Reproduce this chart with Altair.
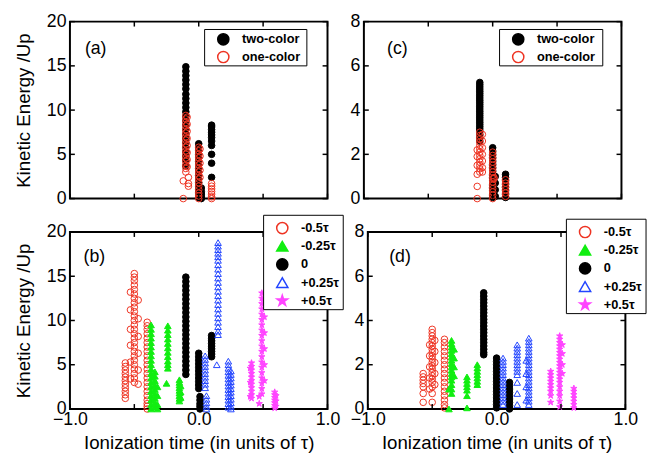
import altair as alt
import pandas as pd

FONT = "Liberation Sans"
W, H = 262, 180

X_TICKS = [-1, -0.5, 0, 0.5, 1]
X_LABELS = [-1, 0, 1]
Y_TICKS_AB = [0, 5, 10, 15, 20]
Y_TICKS_CD = [0, 2, 4, 6, 8]
X_TITLE = "Ionization time (in units of τ)"
Y_TITLE = "Kinetic Energy /Up"

TWO_ONE = ["two-color", "one-color"]
DELAYS = ["-0.5τ", "-0.25τ", "\u00a0\u00a0\u00a00", "+0.25τ", "+0.5τ"]

RED = "#ee3322"
GREEN = "#11ee11"
BLUE = "#2244ff"
MAGENTA = "#ff44ff"
STAR = ("M0,-1L0.2245,-0.309L0.951,-0.309L0.363,0.118L0.588,0.809L0,0.382"
        "L-0.588,0.809L-0.363,0.118L-0.951,-0.309L-0.2245,-0.309Z")

# series style: (shape, fill, stroke)
STYLE = {
    "two-color": ("circle", "black", "black"),
    "one-color": ("circle", "transparent", RED),
    DELAYS[0]: ("circle", "transparent", RED),
    DELAYS[1]: ("triangle-up", GREEN, GREEN),
    DELAYS[2]: ("circle", "black", "black"),
    DELAYS[3]: ("triangle-up", "transparent", BLUE),
    DELAYS[4]: (STAR, MAGENTA, MAGENTA),
}

# ---------- panel (a) ----------
A_TWO = [
    (-0.10, [14.9, 14.4, 13.9, 13.4, 12.9, 12.4, 11.8, 11.3, 10.8, 10.3, 9.8, 9.3, 8.8, 8.3,
             7.8, 7.3, 6.8, 6.3, 5.8, 5.3, 4.8, 4.3, 3.7]),
    (0.00, [6.2, 5.8, 5.4, 5.0, 4.6, 4.2, 3.8, 3.4, 3.0, 2.6, 2.2, 1.8, 1.4, 1.0, 0.7, 0.4, 0.1]),
    (0.02, [1.2, 0.8, 0.5, 0.2, 0.0]),
    (0.10, [8.3, 8.1, 7.8, 7.5, 7.2, 6.9, 6.5, 6.0, 5.0, 4.0, 2.4]),
]
A_ONE = [
    (-0.10, [9.4, 9.0, 8.6, 8.2, 7.8, 7.4, 7.0, 6.6, 6.2, 5.8, 5.4, 5.0, 4.6, 4.2, 3.8, 3.4, 3.0]),
    (-0.09, [9.2, 8.4, 7.6, 6.8, 6.0, 5.2, 4.4, 3.6]),
    (-0.12, [2.0, 0.0]),
    (-0.08, [2.4, 1.7, 1.4]),
    (0.00, [5.8, 5.4, 5.0, 4.6, 4.2, 3.8, 3.4, 3.0, 2.6, 2.2, 1.8, 1.4, 1.0, 0.6, 0.3, 0.0]),
    (0.01, [5.6, 4.8, 4.0, 3.2, 2.4]),
    (0.10, [1.7, 1.4, 1.1, 0.8, 0.5, 0.2, 0.0]),
]

# ---------- panel (c) ----------
C_TWO = [
    (-0.10, [5.25, 5.15, 5.05, 4.95, 4.85, 4.75, 4.65, 4.55, 4.45, 4.35, 4.25, 4.15, 4.05, 3.95,
             3.85, 3.75, 3.65, 3.55, 3.45, 3.35, 3.25, 3.15, 3.05, 2.9, 2.75, 2.6]),
    (0.00, [2.3, 2.15, 2.0, 1.85, 1.7, 1.55, 1.4, 1.25, 1.1, 0.95, 0.8, 0.65, 0.5, 0.35, 0.2, 0.05]),
    (0.02, [1.0, 0.7, 0.4, 0.1]),
    (0.10, [1.1, 0.95, 0.8, 0.65, 0.5, 0.35, 0.2, 0.05]),
]
C_ONE = [
    (-0.10, [3.0, 2.85, 2.7, 2.55, 2.4, 2.25, 2.1, 1.95, 1.8, 1.65, 1.5, 1.35, 1.2]),
    (-0.08, [2.9, 2.6, 2.3, 2.0, 1.7, 1.4, 1.2]),
    (-0.12, [2.2, 1.9, 1.5, 1.1, 0.55, 0.0]),
    (0.00, [2.1, 1.95, 1.8, 1.65, 1.5, 1.35, 1.2, 1.05, 0.9, 0.75, 0.6, 0.45, 0.3, 0.15, 0.0]),
    (0.01, [0.95, 0.9]),
    (0.10, [0.85, 0.7, 0.55, 0.4, 0.25, 0.1]),
]

# ---------- panel (b) ----------
B_M05 = [
    (-0.57, [5.2, 4.8, 4.4, 4.0, 3.6, 3.2, 2.8, 2.4, 2.0, 1.6, 1.2]),
    (-0.50, [15.3, 14.9, 14.5, 14.0, 13.5, 13.0, 12.5, 12.0, 11.5, 11.0, 10.5, 10.0, 9.5, 9.0,
             8.5, 8.0, 7.5, 7.0, 6.5, 6.0, 5.5, 5.0, 4.5, 4.0, 3.5, 3.0]),
    (-0.53, [13.2, 11.2, 9.0, 7.2, 5.3, 3.4]),
    (-0.47, [12.3, 10.2, 8.2, 6.3, 4.4, 2.8]),
    (-0.40, [9.8, 9.4, 9.0, 8.5, 8.0, 7.5, 7.0, 6.5, 6.0, 5.5, 5.0, 4.5, 4.0, 3.5, 3.0, 2.5,
             2.0, 1.5, 1.0, 0.6, 0.3, 0.0]),
]
B_M025 = [
    (-0.37, [9.5, 9.0, 8.5, 8.0, 7.5, 7.0, 6.5, 6.0, 5.5, 5.0, 4.5, 4.0, 3.5, 3.0, 2.5, 2.0,
             1.5, 1.0, 0.5, 0.0]),
    (-0.34, [4.2, 3.7, 3.2, 2.7, 2.2, 1.7, 1.2, 0.7, 0.2]),
    (-0.32, [2.5, 1.5, 0.5, 0.0]),
    (-0.24, [9.4, 8.9, 8.4, 7.9, 7.4, 6.9, 6.4, 5.9, 5.4, 5.0, 4.6]),
    (-0.25, [2.9]),
    (-0.15, [3.3, 3.0, 2.7, 2.4, 2.1, 1.8, 1.5, 1.2, 0.9]),
    (-0.14, [2.6, 1.9, 1.3]),
]
B_ZERO = [
    (-0.10, [14.9, 14.4, 13.9, 13.4, 12.9, 12.4, 11.9, 11.4, 10.9, 10.4, 9.9, 9.4, 8.9, 8.4,
             7.9, 7.4, 6.9, 6.4, 5.9, 5.4, 4.9, 4.4, 3.9]),
    (0.00, [6.3, 5.9, 5.5, 5.1, 4.7, 4.3, 3.9, 3.5, 3.1, 2.7, 2.3]),
    (0.01, [1.4, 1.0, 0.6, 0.3, 0.0]),
    (0.10, [8.3, 8.0, 7.7, 7.4, 7.1, 6.8, 6.5, 6.2, 5.9]),
]
B_P025 = [
    (0.15, [18.8, 18.4, 18.0, 17.6, 17.2, 16.8, 16.3, 15.8, 15.3, 14.8, 14.3, 13.8, 13.3, 12.8,
            12.3, 11.8, 11.3, 10.8, 10.3, 9.8, 9.3, 8.8, 8.4]),
    (0.14, [5.0]),
    (0.05, [6.0, 5.6, 5.2, 4.8, 4.4, 4.0, 3.6, 3.2, 2.8, 2.4]),
    (0.06, [1.5, 1.1, 0.7, 0.3, 0.0]),
    (0.23, [5.4, 5.0, 4.6, 4.2, 3.8, 3.4, 3.0, 2.6, 2.2, 1.8, 1.4, 1.0, 0.6, 0.2]),
    (0.25, [4.3, 3.9, 3.5, 3.1, 2.7, 2.3, 1.9, 1.5, 1.1, 0.7, 0.3, 0.0]),
]
B_P05 = [
    (0.41, [5.2, 4.8, 4.4, 4.0, 3.6, 3.2, 2.8, 2.4, 2.0, 1.6, 1.2]),
    (0.40, [4.6, 3.0, 1.4]),
    (0.49, [13.1, 12.5, 11.9, 11.3, 10.7, 10.1, 9.5, 8.9, 8.3, 7.7, 7.1, 6.5, 5.9, 5.3, 4.7,
            4.1, 3.5, 2.9, 2.3, 1.7]),
    (0.51, [12.2, 10.4, 8.6, 6.8, 5.0, 3.2]),
    (0.47, [1.4, 0.6]),
    (0.59, [1.9, 1.6, 1.3, 1.0, 0.7, 0.4, 0.1]),
    (0.60, [1.5, 0.9, 0.3]),
]

# ---------- panel (d) ----------
D_M05 = [
    (-0.57, [1.6, 1.45, 1.3, 1.15, 1.0, 0.7, 0.3]),
    (-0.50, [3.6, 3.45, 3.3, 3.15, 3.0, 2.85, 2.7, 2.55, 2.4, 2.25, 2.1, 1.95, 1.8, 1.65, 1.5,
             1.35, 1.2, 1.0, 0.7, 0.3]),
    (-0.52, [2.9, 2.4, 1.9, 1.4, 0.9]),
    (-0.48, [3.1, 2.6, 2.1, 1.6, 1.1]),
    (-0.405, [3.15, 3.0, 2.8, 2.6, 2.4, 2.2, 2.0, 1.8, 1.6, 1.4, 1.2, 1.0, 0.8, 0.6, 0.4, 0.2, 0.05]),
]
D_M025 = [
    (-0.35, [3.1, 2.95, 2.8, 2.65, 2.5, 2.35, 2.2, 2.05, 1.9, 1.75, 1.6, 1.45, 1.3, 1.1, 0.9, 0.7]),
    (-0.33, [2.7, 2.3, 1.9, 1.5]),
    (-0.37, [0.9, 0.0]),
    (-0.23, [1.45, 1.3, 1.15, 1.0, 0.85, 0.6, 0.05]),
    (-0.15, [2.0, 1.85, 1.7, 1.55, 1.4, 1.25, 1.1]),
]
D_ZERO = [
    (-0.10, [5.25, 5.1, 4.95, 4.8, 4.65, 4.5, 4.35, 4.2, 4.05, 3.9, 3.75, 3.6, 3.45, 3.3, 3.15,
             3.0, 2.85, 2.7, 2.55, 2.45]),
    (0.00, [2.3, 2.15, 2.0, 1.85, 1.7, 1.55, 1.4, 1.25, 1.1, 0.95, 0.8, 0.65, 0.5, 0.35, 0.2, 0.05]),
    (0.10, [1.2, 1.05, 0.9, 0.75, 0.6, 0.45, 0.3, 0.15, 0.0]),
]
D_P025 = [
    (0.05, [2.3, 2.15, 2.0, 1.85, 1.7, 1.55, 1.4, 1.25, 1.1, 0.95, 0.8, 0.65, 0.5, 0.35, 0.2]),
    (0.16, [2.9, 2.75, 2.6, 2.45, 2.3, 2.15, 2.0, 1.85, 1.7, 1.55, 1.2, 0.7, 0.2]),
    (0.25, [3.2, 3.05, 2.9, 2.75, 2.6, 2.45, 2.3, 2.15, 2.0, 1.85, 1.7, 1.55, 1.4, 1.25, 1.1,
            0.95, 0.8, 0.65, 0.5, 0.35, 0.2]),
    (0.23, [2.2, 1.6, 1.0, 0.4]),
]
D_P05 = [
    (0.42, [1.7, 1.55, 1.4, 1.25, 1.1, 0.95, 0.8, 0.6, 0.3]),
    (0.49, [3.3, 3.15, 3.0, 2.85, 2.7, 2.55, 2.4, 2.25, 2.1, 1.95, 1.8, 1.65, 1.5, 1.35, 1.2,
            1.0, 0.8, 0.6, 0.35, 0.1]),
    (0.51, [2.9, 2.5, 2.0, 1.6]),
    (0.60, [0.93, 0.8, 0.65, 0.5, 0.35, 0.2, 0.05]),
]

PANEL_LABELS = {"a": ("(a)", -0.80, 16.9), "b": ("(b)", -0.81, 17.2),
                "c": ("(c)", -0.74, 6.75), "d": ("(d)", -0.75, 6.87)}


def table(groups):
    rows = []
    for name, cols in groups:
        shp, fil, stk = STYLE[name]
        for x, ys in cols:
            for y in ys:
                rows.append({"t": x, "e": y, "s": name, "shp": shp, "fil": fil, "stk": stk})
    return pd.DataFrame(rows)


def px_x(px):
    return -1 + 2.0 * px / W


def px_y(py, ymax):
    return ymax * (H - py) / H


def panel(groups, ymax, yvals, key, show_x, show_ytitle, box, pitch):
    df = table(groups)
    names = [g[0] for g in groups]
    xs = alt.Scale(domain=[-1, 1], nice=False, zero=False)
    ys = alt.Scale(domain=[0, ymax], nice=False, zero=False)
    if show_x:
        xaxis = alt.Axis(orient="bottom", values=X_LABELS, labelFlush=False, ticks=False,
                         domain=False, grid=False, labelPadding=2, titlePadding=5,
                         title=X_TITLE)
    else:
        xaxis = None
    ykw = dict(orient="left", values=yvals, ticks=False, domain=False, grid=False,
               labelPadding=4, titlePadding=13)
    ykw["title"] = Y_TITLE if show_ytitle else None
    yaxis = alt.Axis(**ykw)

    def X(field):
        return alt.X(field, scale=xs, axis=xaxis)

    def Y(field):
        return alt.Y(field, scale=ys, axis=yaxis)

    pts = alt.Chart(df).mark_point(filled=True, size=45, opacity=1, strokeWidth=1).encode(
        x=X("t:Q"),
        y=Y("e:Q"),
        shape=alt.Shape("shp:N", scale=None),
        fill=alt.Fill("fil:N", scale=None),
        stroke=alt.Stroke("stk:N", scale=None),
    )
    xt = pd.DataFrame({"t": X_TICKS})
    yt = pd.DataFrame({"e": yvals})
    tick_style = dict(color="black", strokeWidth=1.5)
    xt_bot = alt.Chart(xt).mark_rule(**tick_style).encode(
        x=X("t:Q"), y=alt.value(H), y2=alt.value(H - 5))
    xt_top = alt.Chart(xt).mark_rule(**tick_style).encode(
        x=X("t:Q"), y=alt.value(0), y2=alt.value(5))
    yt_left = alt.Chart(yt).mark_rule(**tick_style).encode(
        y=Y("e:Q"), x=alt.value(0), x2=alt.value(5))
    yt_right = alt.Chart(yt).mark_rule(**tick_style).encode(
        y=Y("e:Q"), x=alt.value(W), x2=alt.value(W - 5))
    lab, lx, ly = PANEL_LABELS[key]
    txt = alt.Chart(pd.DataFrame({"t": [lx], "e": [ly], "lab": [lab]})).mark_text(
        font=FONT, fontSize=18, color="black").encode(
        x=X("t:Q"),
        y=Y("e:Q"),
        text="lab:N",
    )
    # legend (box, symbols, labels)
    bx, by, bw, bh, first = box
    rect_df = pd.DataFrame({"t": [px_x(bx)], "t2": [px_x(bx + bw)],
                            "e": [px_y(by, ymax)], "e2": [px_y(by + bh, ymax)]})
    leg_box = alt.Chart(rect_df).mark_rect(fill="white", stroke="black", strokeWidth=1).encode(
        x=X("t:Q"), x2="t2:Q",
        y=Y("e:Q"), y2="e2:Q")
    ent = pd.DataFrame({
        "s": names,
        "shp": [STYLE[n][0] for n in names],
        "fil": [STYLE[n][1] for n in names],
        "stk": [STYLE[n][2] for n in names],
        "t": [px_x(bx + 19)] * len(names),
        "tl": [px_x(bx + 38)] * len(names),
        "e": [px_y(by + first + pitch * i, ymax) for i in range(len(names))],
    })
    leg_sym = alt.Chart(ent).mark_point(filled=True, size=130, opacity=1,
                                        strokeWidth=1.5).encode(
        x=X("t:Q"),
        y=Y("e:Q"),
        shape=alt.Shape("shp:N", scale=None),
        fill=alt.Fill("fil:N", scale=None),
        stroke=alt.Stroke("stk:N", scale=None),
    )
    leg_txt = alt.Chart(ent).mark_text(font=FONT, fontSize=13, fontWeight="bold",
                                       color="black", align="left").encode(
        x=X("tl:Q"),
        y=Y("e:Q"),
        text="s:N",
    )
    return alt.layer(pts, xt_bot, xt_top, yt_left, yt_right, txt, leg_box, leg_sym,
                     leg_txt).properties(width=W, height=H)


pa = panel([("two-color", A_TWO), ("one-color", A_ONE)], 20, Y_TICKS_AB, "a", False, True,
           (137, 8, 104, 37, 10), 18)
pc = panel([("two-color", C_TWO), ("one-color", C_ONE)], 8, Y_TICKS_CD, "c", False, False,
           (138, 8, 105, 37, 10), 18)
pb = panel([(DELAYS[0], B_M05), (DELAYS[1], B_M025), (DELAYS[2], B_ZERO),
            (DELAYS[3], B_P025), (DELAYS[4], B_P05)], 20, Y_TICKS_AB, "b", True, True,
           (197, -17, 81, 96, 13), 18.5)
pd_ = panel([(DELAYS[0], D_M05), (DELAYS[1], D_M025), (DELAYS[2], D_ZERO),
             (DELAYS[3], D_P025), (DELAYS[4], D_P05)], 8, Y_TICKS_CD, "d", True, False,
            (202, -13, 81, 96, 13), 18.5)

top = alt.hconcat(pa, pc, spacing=19)
bottom = alt.hconcat(pb, pd_, spacing=4)
chart = alt.vconcat(top, bottom, spacing=5).properties(
    padding={"left": 5, "top": 0, "right": 0, "bottom": 0}).configure_view(
    stroke="black", strokeWidth=2).configure_axis(
    labelFont=FONT, titleFont=FONT, labelColor="black", titleColor="black",
    labelFontSize=18, titleFontSize=19, titleFontWeight="normal")

chart.save("out.html", embed_options={"renderer": "svg", "actions": False})
